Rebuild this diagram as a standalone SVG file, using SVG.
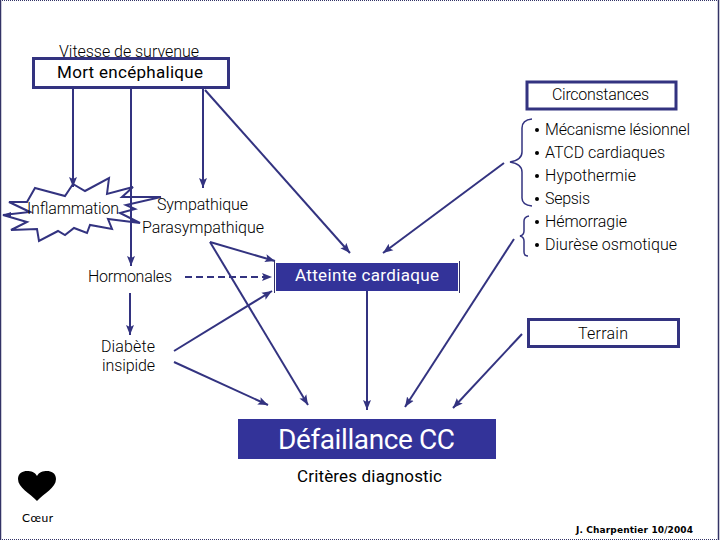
<svg xmlns="http://www.w3.org/2000/svg" width="720" height="540" viewBox="0 0 720 540">
<style>
text{font-family:Roboto,"Noto Sans",sans-serif;font-size:16px;font-weight:300;fill:#000}
.m{font-weight:400;font-size:17px}
.w{fill:#fff;font-weight:400;font-size:17px}
.box{fill:#fff;stroke:#333380;stroke-width:3}
.solid{fill:#333399}
.c{fill:none;stroke:#333380;stroke-width:2}
.a{marker-end:url(#arrow)}
.d{stroke-dasharray:7 4}
.thin{stroke:#333366;stroke-width:1;fill:none}
.brace{stroke:#333380;stroke-width:1.5;fill:none}
</style>
<defs>
<marker id="arrow" markerUnits="userSpaceOnUse" markerWidth="11" markerHeight="10" refX="10" refY="4.5" orient="auto">
<path d="M0,0.5 L10,4.5 L0,8.5 L2,4.5 z" fill="#333380"/>
</marker>
</defs>
<rect width="720" height="540" fill="#fff"/>
<g id="frame">
<path d="M0.5,0V540M718.5,0V540" stroke="#333366" stroke-width="1.5" fill="none"/>
<path d="M0,0.5H720M0,539.5H720" stroke="#333366" stroke-width="1" stroke-dasharray="1 1" fill="none"/>
</g>
<g id="vitesse"><text x="59" y="56.5" textLength="140">Vitesse de survenue</text></g>
<g id="inflammation">
<polygon points="35,188 65,196 73,184 85,191 109,178 107,194 133,187 122,197 161,197 126,205 135,209 120,213 140,223 108,219 112,229 90,225 87,233 74,228 65,235 58,231 39,241 37,229 11,230 27,222 3,215 30,212 9,202 27,202" fill="#fff" stroke="#333380" stroke-width="2"/>
<path d="M140,223L130,218L131,222ZM3,215L11,212L11,217Z" fill="#333380"/>
<text x="27" y="214" textLength="92">Inflammation</text>
</g>
<g id="connectors">
<path class="c a" d="M73,88V187"/>
<path class="c a" d="M131,88V266"/>
<path class="c a" d="M203,88V188"/>
<path class="c a" d="M205,90L350,253"/>
<path class="c a" d="M504,163L383,253"/>
<path class="c a" d="M514,239L405,407"/>
<path class="c a" d="M522,334L453,408"/>
<path class="c a" d="M210,242L275,261"/>
<path class="c a" d="M210,242L308,405"/>
<path class="c a d" d="M185,277H272"/>
<path class="c a" d="M130,293V335"/>
<path class="c a" d="M174,351L272,291"/>
<path class="c a" d="M174,362L268,405"/>
<path class="c a" d="M367,291V410"/>
</g>
<g id="mort">
<rect class="box" x="33.5" y="58.5" width="195" height="29"/>
<text class="m" x="57" y="78" textLength="146">Mort encéphalique</text>
</g>
<g id="circonstances">
<rect class="box" x="527" y="82" width="149" height="27"/>
<text x="552" y="100" textLength="97">Circonstances</text>
</g>
<g id="liste">
<path class="brace" d="M532,119Q522,120 522,128V152Q522,160 510,162Q522,164 522,172V198Q522,205 532,206"/>
<path class="brace" d="M529,216Q524,217 524,221V231Q524,235 520,236Q524,237 524,241V252Q524,256 528,256"/>
<g fill="#000">
<circle cx="537" cy="130" r="2"/><circle cx="537" cy="153" r="2"/><circle cx="537" cy="176" r="2"/><circle cx="537" cy="199" r="2"/><circle cx="537" cy="222" r="2"/><circle cx="537" cy="245" r="2"/>
</g>
<text x="545" y="135" textLength="145">Mécanisme lésionnel</text>
<text x="545" y="158" textLength="120">ATCD cardiaques</text>
<text x="545" y="181" textLength="91">Hypothermie</text>
<text x="545" y="204" textLength="45">Sepsis</text>
<text x="545" y="227" textLength="82">Hémorragie</text>
<text x="545" y="250" textLength="132">Diurèse osmotique</text>
</g>
<g id="sympathique">
<text x="157" y="210" textLength="91">Sympathique</text>
<text x="142" y="233" textLength="122">Parasympathique</text>
</g>
<g id="hormonales"><text x="88" y="282" textLength="84">Hormonales</text></g>
<g id="diabete">
<text x="101" y="352" textLength="54">Diabète</text>
<text x="102" y="371" textLength="53">insipide</text>
</g>
<g id="atteinte">
<rect class="solid" x="276" y="263" width="182" height="28"/>
<path class="thin" d="M274.5,261V293M459.5,261V293"/>
<text class="w" x="295" y="281" textLength="144">Atteinte cardiaque</text>
</g>
<g id="terrain">
<rect class="box" x="528.5" y="319.5" width="150" height="27"/>
<text x="578" y="339" textLength="50">Terrain</text>
</g>
<g id="defaillance">
<rect class="solid" x="238" y="419" width="258" height="40"/>
<text class="w" x="278" y="449" style="font-size:28px" textLength="177">Défaillance CC</text>
</g>
<g id="criteres"><text class="m" x="297" y="482" textLength="145">Critères diagnostic</text></g>
<g id="coeur">
<path d="M37,501C30,493 18,488 18,479C18,473 23,471 27,471C31,471 35,472 37,476C39,472 43,471 47,471C51,471 56,473 56,479C56,488 44,493 37,501Z" fill="#000"/>
<text x="22" y="522" style="font-family:Lato,sans-serif;font-size:12px;font-weight:400" textLength="31">Cœur</text>
</g>
<g id="signature"><text x="576" y="533" style="font-family:'DejaVu Sans',sans-serif;font-size:9px;font-weight:700" textLength="117">J. Charpentier 10/2004</text></g>
</svg>
